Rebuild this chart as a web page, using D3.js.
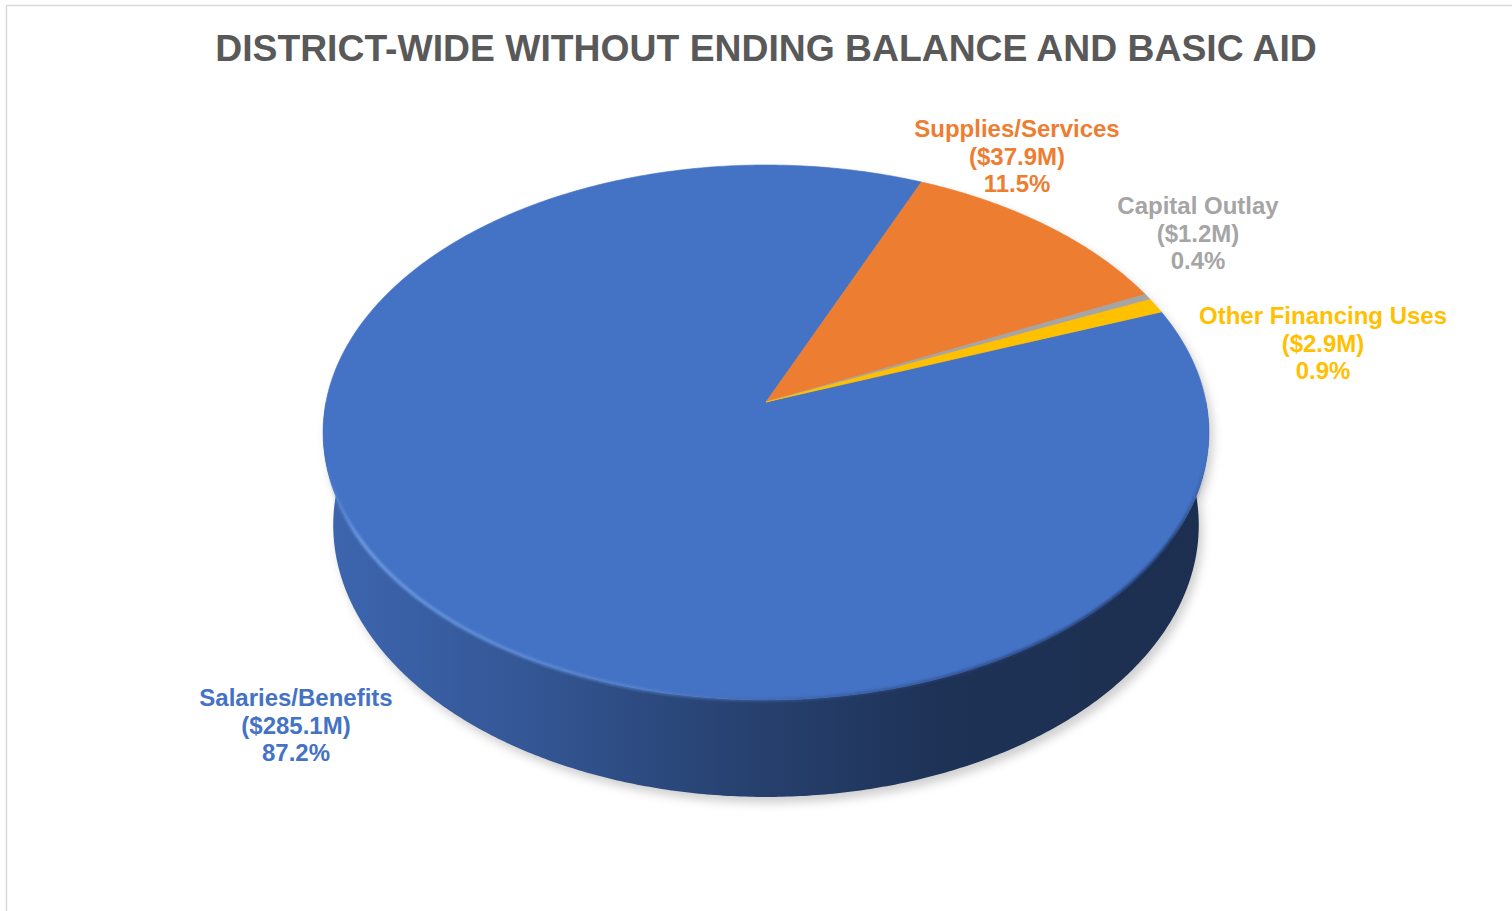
<!DOCTYPE html>
<html><head><meta charset="utf-8">
<script src="https://cdn.jsdelivr.net/npm/d3@7"></script>
<style>html,body{margin:0;padding:0;background:#fff;overflow:hidden;} svg{display:block;}</style>
</head><body>
<svg id="chart" width="1512" height="911"></svg>
<script>
// ---- data ----
const title = "DISTRICT-WIDE WITHOUT ENDING BALANCE AND BASIC AID";
const categories = ["Salaries/Benefits", "Supplies/Services", "Capital Outlay", "Other Financing Uses"];
const values = [285.1, 37.9, 1.2, 2.9];
const amountLabels = ["($285.1M)", "($37.9M)", "($1.2M)", "($2.9M)"];
const percentLabels = ["87.2%", "11.5%", "0.4%", "0.9%"];
const colors = ["#4472C4", "#ED7D31", "#A5A5A5", "#FFC000"];

// ---- layout ----
const W = 1512, H = 911;
const cx = 766, cy = 402, S = 440, sinP = 0.6, cosP = 0.8, Dist = 7.02, depth = 0.27;
const firstSliceDeg = 69.2;
const labelAnchors = [[296, 706], [1017, 137], [1198, 214], [1323, 324]];
const labelFont = "'Liberation Sans', Arial, sans-serif";

const svg = d3.select("#chart");
const defs = svg.append("defs");

svg.append("rect").attr("x", 6.5).attr("y", 5.5).attr("width", W + 20).attr("height", H + 20)
  .attr("fill", "#fff").attr("stroke", "#d9d9d9").attr("stroke-width", 1.5);

function project(theta, r, y) {
  const x = r * Math.sin(theta), z = -r * Math.cos(theta);
  const yc = y * cosP - z * sinP;
  const zc = y * sinP + z * cosP;
  const f = 1 / (1 - zc / Dist);
  return [cx + S * x * f, cy - S * yc * f];
}
function arcPts(a0, a1, y) {
  const n = Math.max(2, Math.ceil(Math.abs(a1 - a0) / (Math.PI / 360)));
  return d3.range(n + 1).map(i => project(a0 + (a1 - a0) * i / n, 1, y));
}

const data = categories.map((c, i) => ({ name: c, value: values[i], color: colors[i], amount: amountLabels[i], pct: percentLabels[i] }));
const a0 = firstSliceDeg * Math.PI / 180;
const arcs = d3.pie().sort(null).value(d => d.value).startAngle(a0).endAngle(a0 + 2 * Math.PI)(data);
const line = d3.line().curve(d3.curveLinearClosed);

// shadow
const shadowF = defs.append("filter").attr("id", "shadow").attr("x", "-10%").attr("y", "-10%").attr("width", "120%").attr("height", "130%");
shadowF.append("feGaussianBlur").attr("stdDeviation", 5);
const visA = Math.PI / 2, visB = 3 * Math.PI / 2;
const silhouette = arcPts(0, 2 * Math.PI, 0);
const sideAll = arcPts(visA, visB, 0).concat(arcPts(visB, visA, -depth));
const sh = svg.append("g").attr("filter", "url(#shadow)").attr("transform", "translate(4,6)").attr("opacity", 0.35);
sh.append("path").attr("d", line(silhouette)).attr("fill", "#777");
sh.append("path").attr("d", line(sideAll)).attr("fill", "#777");

// side walls
const sideG = svg.append("g");
arcs.forEach((d, i) => {
  const c = d3.color(d.data.color);
  const gid = "side" + i;
  const g = defs.append("linearGradient").attr("id", gid).attr("gradientUnits", "userSpaceOnUse")
    .attr("x1", cx - S).attr("x2", cx + S).attr("y1", 0).attr("y2", 0);
  [[0, 0.3], [0.22, 0.75], [0.45, 1.5], [0.7, 2.3], [1, 2.5]].forEach(([o, k]) =>
    g.append("stop").attr("offset", o).attr("stop-color", c.darker(k).formatHex()));
  for (let k = -1; k <= 1; k++) {
    const lo = Math.max(d.startAngle, visA + 2 * Math.PI * k);
    const hi = Math.min(d.endAngle, visB + 2 * Math.PI * k);
    if (hi > lo) {
      const pts = arcPts(lo, hi, 0).concat(arcPts(hi, lo, -depth));
      sideG.append("path").attr("d", line(pts)).attr("fill", `url(#${gid})`);
    }
  }
});

// top faces
const topG = svg.append("g");
arcs.forEach(d => {
  const pts = [project(0, 0, 0)].concat(arcPts(d.startAngle, d.endAngle, 0));
  topG.append("path").attr("d", line(pts)).attr("fill", d.data.color)
    .attr("stroke", d.data.color).attr("stroke-width", 0.6).attr("stroke-linejoin", "round");
});

// rim bevel
const rimGrad = defs.append("linearGradient").attr("id", "rim").attr("gradientUnits", "userSpaceOnUse")
  .attr("x1", cx - S).attr("x2", cx + S).attr("y1", 0).attr("y2", 0);
[[0, "#6d9be3", 0.0], [0.04, "#6d9be3", 0.85], [0.35, "#5c89d4", 0.6], [0.6, "#2d4b86", 0.45], [0.96, "#1c2f58", 0.8], [1, "#1c2f58", 0.0]].forEach(([o, col, op]) =>
  rimGrad.append("stop").attr("offset", o).attr("stop-color", col).attr("stop-opacity", op));
const blurF = defs.append("filter").attr("id", "soft");
blurF.append("feGaussianBlur").attr("stdDeviation", 1.2);
svg.append("path").attr("d", d3.line()(arcPts(Math.PI * 0.53, Math.PI * 1.47, 0)))
  .attr("fill", "none").attr("stroke", "url(#rim)").attr("stroke-width", 4).attr("filter", "url(#soft)");

// title
svg.append("text").attr("x", cx).attr("y", 61).attr("text-anchor", "middle")
  .attr("font-family", labelFont).attr("font-weight", "bold").attr("font-size", 37.3)
  .attr("fill", "#595959").text(title);

// labels
const lab = svg.append("g").attr("font-family", labelFont).attr("font-weight", "bold")
  .attr("font-size", 24).attr("text-anchor", "middle");
arcs.forEach((d, i) => {
  const [x, y] = labelAnchors[i];
  const t = lab.append("text").attr("x", x).attr("y", y).attr("fill", d.data.color);
  [d.data.name, d.data.amount, d.data.pct].forEach((s, j) =>
    t.append("tspan").attr("x", x).attr("dy", j === 0 ? 0 : 27.6).text(s));
});
</script>
</body></html>
